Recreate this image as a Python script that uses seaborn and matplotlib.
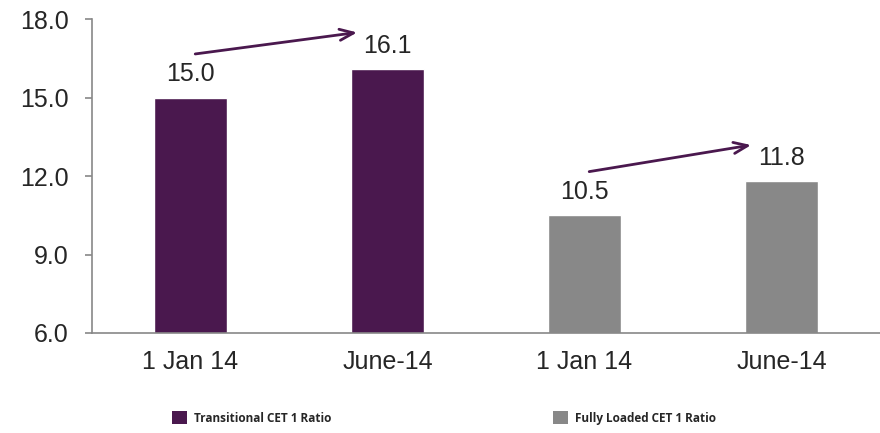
'''
CET 1 ratio bars, transitional vs fully loaded
'''

import matplotlib
matplotlib.use('Agg')
import matplotlib.pyplot as plt
from matplotlib.patches import Patch
import pandas as pd
import seaborn as sns

PURPLE = '#4a184e'
GREY = '#888888'

# data
periods = ['1 Jan 14', 'June-14', '1 Jan 14', 'June-14']
series = ['Transitional CET 1 Ratio', 'Transitional CET 1 Ratio',
          'Fully Loaded CET 1 Ratio', 'Fully Loaded CET 1 Ratio']
ratios = [15.0, 16.1, 10.5, 11.8]
y_ticks = [6.0, 9.0, 12.0, 15.0, 18.0]

df = pd.DataFrame({'slot': ['a', 'b', 'c', 'd'], 'series': series, 'ratio': ratios})

sns.set_style('white')
plt.rcParams['font.family'] = ['Liberation Sans', 'DejaVu Sans']

fig = plt.figure(figsize=(8.8, 4.33), dpi=100)
ax = fig.add_axes([92 / 880, 1 - 333 / 433, 1 - 92 / 880, (333 - 19) / 433])

sns.barplot(data=df, x='slot', y='ratio', hue='series', dodge=False, width=0.375,
            palette={series[0]: PURPLE, series[2]: GREY}, saturation=1,
            legend=False, ax=ax)

ax.set_ylim(6, 18)
ax.set_xlim(-0.5, 3.5)
ax.set_yticks(y_ticks)
ax.set_yticklabels(['{:.1f}'.format(v) for v in y_ticks], fontsize=18)
ax.set_xticks(range(len(periods)))
ax.set_xticklabels(periods, fontsize=18)
ax.set_xlabel('')
ax.set_ylabel('')

for side in ['top', 'right']:
    ax.spines[side].set_visible(False)
for side in ['left', 'bottom']:
    ax.spines[side].set_color(GREY)
    ax.spines[side].set_linewidth(1.2)
ax.tick_params(axis='y', length=5, width=1.2, color=GREY, direction='out', left=True, pad=12)
ax.tick_params(axis='x', length=0, pad=12)

# value labels
for i, v in enumerate(ratios):
    ax.annotate('{:.1f}'.format(v), (i, v), xytext=(0, 8), textcoords='offset points',
                ha='center', va='bottom', fontsize=18)

# growth arrows
for i in [0, 2]:
    ax.annotate('', xy=(i + 0.86, ratios[i + 1] + 1.4), xytext=(i + 0.01, ratios[i] + 1.65),
                arrowprops=dict(arrowstyle='->,head_length=1.0,head_width=0.4',
                                color=PURPLE, lw=2))

# legend, two separate entries
leg_font = {'family': ['Open Sans', 'DejaVu Sans'], 'weight': 'bold', 'size': 8.5}
for lab, col, x0 in [(series[0], PURPLE, 170 / 880), (series[2], GREY, 551 / 880)]:
    fig.legend(handles=[Patch(facecolor=col, edgecolor='none', label=lab)],
               loc='center left', bbox_to_anchor=(x0, 1 - 418 / 433), frameon=False,
               prop=leg_font, handlelength=1.2, handleheight=1.2, handletextpad=0.6,
               borderaxespad=0, borderpad=0.2)

fig.savefig('out.png', dpi=100)
